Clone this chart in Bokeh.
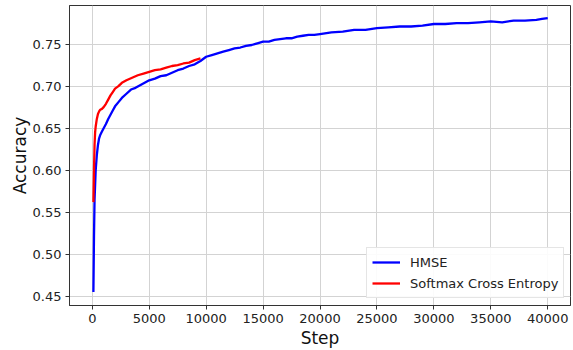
from bokeh.plotting import figure
from bokeh.models import FixedTicker, Range1d, Legend, LegendItem
from bokeh.embed import file_html
from bokeh.resources import INLINE

# HMSE accuracy curve
hmse_step = [100, 150, 200, 300, 400, 500, 600, 700, 850, 1000, 1200, 1400, 1600, 1800, 2000,
             2300, 2600, 3000, 3400, 3800, 4200, 4600, 5000, 5500, 6000, 6500, 7000, 7500,
             8000, 8500, 9000, 9500, 10000, 10500, 11000, 11500, 12000, 12500, 13000, 13500,
             14000, 14500, 15000, 15500, 16000, 16500, 17000, 17500, 18000, 18500, 19000,
             19500, 20000, 21000, 22000, 23000, 24000, 25000, 26000, 27000, 28000, 29000,
             30000, 31000, 32000, 33000, 34000, 35000, 36000, 37000, 38000, 39000, 39500, 40000]
hmse_acc = [0.455, 0.52, 0.565, 0.6, 0.618, 0.63, 0.638, 0.642, 0.646, 0.65, 0.655, 0.661, 0.666,
            0.671, 0.676, 0.681, 0.686, 0.691, 0.696, 0.698, 0.701, 0.704, 0.707, 0.709, 0.712,
            0.713, 0.716, 0.719, 0.721, 0.724, 0.726, 0.730, 0.735, 0.737, 0.739, 0.741, 0.743,
            0.745, 0.746, 0.748, 0.749, 0.751, 0.753, 0.753, 0.755, 0.756, 0.757, 0.757, 0.759,
            0.760, 0.761, 0.761, 0.762, 0.764, 0.765, 0.767, 0.767, 0.769, 0.770, 0.771, 0.771,
            0.772, 0.774, 0.774, 0.775, 0.775, 0.776, 0.777, 0.776, 0.778, 0.778, 0.779, 0.780, 0.781]

# Softmax Cross Entropy accuracy curve
sce_step = [100, 150, 200, 250, 300, 400, 500, 600, 700, 850, 1000, 1200, 1400, 1600, 1800,
            2000, 2300, 2600, 3000, 3500, 4000, 4500, 5000, 5500, 6000, 6500, 7000, 7500,
            8000, 8500, 9000, 9500]
sce_acc = [0.562, 0.60, 0.63, 0.645, 0.652, 0.661, 0.667, 0.670, 0.672, 0.673, 0.675, 0.679,
           0.684, 0.689, 0.693, 0.697, 0.700, 0.704, 0.707, 0.710, 0.713, 0.715, 0.717, 0.719,
           0.720, 0.722, 0.724, 0.725, 0.727, 0.728, 0.731, 0.733]

x_ticks = [0, 5000, 10000, 15000, 20000, 25000, 30000, 35000, 40000]
y_ticks = [0.45, 0.50, 0.55, 0.60, 0.65, 0.70, 0.75]

FONT = "DejaVu Sans"

p = figure(width=573, height=350, output_backend="svg", toolbar_location=None,
           x_range=Range1d(-2000, 42000), y_range=Range1d(0.439, 0.796),
           min_border_left=69, min_border_right=3, min_border_top=5, min_border_bottom=45)

p.background_fill_color = "white"
p.border_fill_color = "white"
p.outline_line_color = "#333333"
p.outline_line_width = 1

hm = p.line(hmse_step, hmse_acc, line_color="#0000ff", line_width=2.3)
sc = p.line(sce_step, sce_acc, line_color="#ff0000", line_width=2.3)

for ax in (p.xaxis[0], p.yaxis[0]):
    ax.major_label_text_font = FONT
    ax.major_label_text_font_size = "13px"
    ax.major_label_text_color = "#222222"
    ax.axis_label_text_font = FONT
    ax.axis_label_text_font_size = "17px"
    ax.axis_label_text_font_style = "normal"
    ax.axis_label_text_color = "#111111"
    ax.minor_tick_line_color = None
    ax.major_tick_in = 0
    ax.major_tick_out = 4
    ax.major_tick_line_color = "#333333"
    ax.axis_line_color = "#333333"

p.xaxis.ticker = FixedTicker(ticks=x_ticks)
p.yaxis.ticker = FixedTicker(ticks=y_ticks)
p.yaxis.major_label_overrides = {t: f"{t:.2f}" for t in y_ticks}
p.xaxis.axis_label = "Step"
p.yaxis.axis_label = "Accuracy"
p.xaxis.axis_label_standoff = 2
p.yaxis.axis_label_standoff = 0
p.xaxis.major_label_standoff = 4
p.yaxis.major_label_standoff = 4

p.xgrid.ticker = FixedTicker(ticks=x_ticks)
p.ygrid.ticker = FixedTicker(ticks=y_ticks)
p.grid.grid_line_color = "#d3d3d3"
p.grid.grid_line_width = 1

legend = Legend(items=[LegendItem(label="HMSE", renderers=[hm]),
                       LegendItem(label="Softmax Cross Entropy", renderers=[sc])],
                location=(297, 7))
legend.label_text_font = FONT
legend.label_text_font_size = "13px"
legend.label_text_color = "#222222"
legend.glyph_width = 28
legend.glyph_height = 18
legend.label_height = 18
legend.label_standoff = 10
legend.spacing = 3
legend.padding = 5
legend.margin = 0
legend.border_line_color = "#cccccc"
legend.border_line_width = 1
legend.background_fill_alpha = 0.9
p.add_layout(legend, "center")

open("out.html", "w").write(file_html(p, INLINE))
